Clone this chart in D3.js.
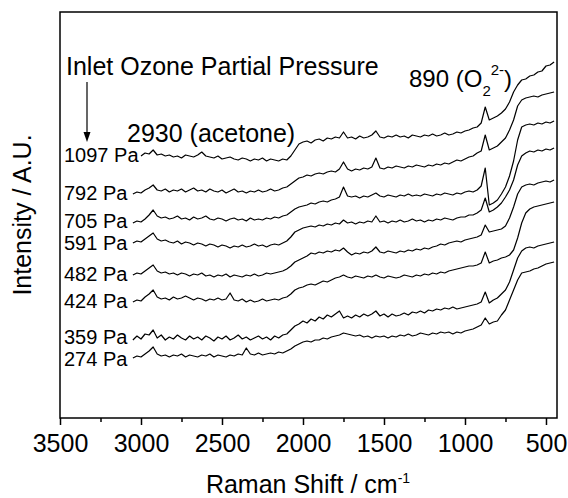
<!DOCTYPE html>
<html>
<head>
<meta charset="utf-8">
<script src="https://cdn.jsdelivr.net/npm/d3@7"></script>
<style>
  body { margin: 0; background: #fff; }
  svg text { font-family: "Liberation Sans", Arial, sans-serif; fill: #000; }
</style>
</head>
<body>
<div id="chart"></div>
<script>
var width = 568, height = 498;

// Raman shift grid (cm-1), 25 cm-1 step
var shift = d3.range(3050, 449, -25);
var majorTicks = [3500, 3000, 2500, 2000, 1500, 1000, 500];
var minorTicks = [3250, 2750, 2250, 1750, 1250, 750];
var pressures = ['1097 Pa', '792 Pa', '705 Pa', '591 Pa', '482 Pa', '424 Pa', '359 Pa', '274 Pa'];

// stacked spectra, a.u. (offset already applied)
var s1097 = [null, null, 262, 265, 264, 268, 263, 264, 262, 263,
  261, 262, 260, 263, 262, 261, 263, 266, 262, 261,
  260, 262, 259, 260, 261, 259, 258, 260, 259, 257,
  259, 258, 260, 257, 259, 258, 257, 259, 258, 262,
  268, 274, 276, 277, 275, 278, 279, 277, 280, 279,
  281, 280, 286, 280, 281, 279, 282, 280, 281, 283,
  287, 281, 280, 282, 281, 283, 281, 282, 280, 283,
  282, 281, 283, 282, 284, 282, 283, 285, 283, 284,
  286, 285, 287, 288, 290, 291, 295, 311, 298, 300,
  302, 305, 309, 316, 326, 333, 338, 339, 342, 343,
  346, 347, 352, 353, 356];
var s792 = [224, 226, 225, 228, 230, 233, 228, 227, 229, 226,
  228, 227, 229, 226, 228, 230, 227, 228, 226, 229,
  227, 226, 228, 225, 227, 229, 226, 227, 225, 227,
  226, 228, 226, 227, 229, 227, 228, 230, 231, 234,
  237, 240, 241, 243, 242, 244, 245, 244, 246, 247,
  246, 249, 256, 249, 247, 249, 248, 250, 249, 251,
  260, 250, 249, 251, 250, 252, 251, 250, 252, 251,
  253, 252, 251, 253, 252, 254, 253, 255, 254, 256,
  258, 257, 259, 261, 262, 265, 267, 283, 268, 270,
  272, 276, 280, 288, 298, 312, 318, 320, 321, 322,
  321, 323, 324, 325, 326];
var s705 = [195, 197, 196, 199, 203, 208, 202, 200, 201, 199,
  200, 202, 199, 200, 198, 201, 199, 200, 202, 199,
  198, 200, 199, 197, 199, 200, 198, 199, 197, 200,
  198, 199, 198, 200, 199, 201, 200, 202, 203, 206,
  209, 211, 212, 213, 215, 214, 216, 217, 216, 218,
  219, 221, 231, 222, 221, 222, 220, 222, 221, 223,
  225, 222, 221, 223, 222, 221, 223, 222, 224, 222,
  223, 222, 224, 223, 222, 224, 223, 225, 224, 223,
  225, 224, 226, 227, 226, 228, 232, 250, 213, 215,
  218, 224, 231, 242, 257, 278, 291, 293, 294, 293,
  295, 294, 296, 295, 297];
var s591 = [175, 177, 176, 179, 182, 185, 179, 177, 178, 176,
  175, 177, 174, 176, 175, 173, 175, 174, 172, 174,
  173, 171, 173, 172, 170, 172, 171, 173, 171, 172,
  174, 172, 173, 171, 173, 174, 173, 175, 177, 181,
  186, 188, 190, 191, 192, 191, 193, 192, 194, 193,
  195, 194, 198, 195, 196, 194, 196, 195, 197, 196,
  202, 196, 197, 195, 197, 196, 198, 196, 197, 199,
  197, 198, 196, 198, 197, 199, 198, 200, 199, 198,
  200, 201, 201, 203, 203, 205, 208, 220, 206, 208,
  211, 215, 221, 228, 238, 253, 262, 265, 267, 266,
  268, 267, 269, 268, 270];
var s482 = [143, 145, 144, 147, 150, 153, 147, 145, 146, 144,
  145, 143, 145, 144, 142, 144, 143, 145, 142, 143,
  141, 143, 142, 144, 141, 143, 142, 141, 143, 142,
  144, 142, 143, 145, 144, 145, 146, 147, 149, 152,
  156, 158, 160, 162, 165, 164, 166, 165, 167, 166,
  168, 167, 170, 166, 163, 165, 164, 166, 165, 167,
  171, 166, 165, 167, 166, 165, 167, 166, 168, 167,
  169, 168, 170, 169, 171, 172, 174, 173, 175, 176,
  177, 176, 178, 179, 180, 181, 183, 193, 186, 187,
  188, 189, 192, 200, 211, 224, 231, 233, 234, 233,
  235, 236, 237, 236, 238];
var s424 = [116, 118, 117, 121, 124, 128, 121, 119, 120, 118,
  121, 119, 120, 122, 120, 118, 120, 119, 117, 119,
  118, 120, 118, 119, 125, 118, 117, 119, 116, 118,
  116, 117, 119, 117, 118, 119, 118, 120, 121, 124,
  128, 130, 131, 133, 134, 133, 135, 137, 136, 138,
  140, 141, 143, 141, 140, 142, 141, 140, 142, 141,
  143, 141, 140, 142, 141, 140, 141, 143, 142, 141,
  143, 142, 144, 143, 145, 144, 146, 145, 147, 148,
  149, 150, 151, 152, 152, 153, 155, 166, 155, 157,
  158, 160, 161, 163, 168, 180, 195, 205, 209, 211,
  212, 213, 214, 215, 216];
var s359 = [78, 82, 79, 84, 83, 88, 80, 83, 78, 81,
  79, 83, 80, 78, 82, 79, 81, 78, 82, 80,
  77, 81, 79, 82, 78, 80, 83, 79, 81, 78,
  80, 82, 79, 81, 78, 82, 80, 83, 84, 88,
  92, 94, 97, 95, 99, 97, 101, 99, 103, 101,
  104, 107, 100, 102, 100, 103, 101, 104, 102, 104,
  107, 102, 104, 101, 104, 102, 103, 105, 103, 106,
  105, 107, 105, 108, 107, 109, 108, 110, 109, 111,
  109, 110, 111, 112, 113, 114, 116, 126, 115, 118,
  120, 124, 128, 136, 148, 160, 167, 170, 171, 170,
  172, 173, 174, 175, 176];
var s274 = [60, 62, 61, 64, 67, 71, 64, 62, 63, 61,
  63, 62, 64, 61, 63, 62, 61, 63, 62, 64,
  61, 63, 62, 61, 63, 62, 64, 63, 70, 64,
  63, 65, 63, 64, 65, 64, 66, 65, 67, 69,
  72, 74, 76, 77, 76, 78, 78, 80, 79, 81,
  82, 83, 85, 84, 83, 82, 83, 81, 82, 80,
  82, 81, 82, 80, 82, 81, 83, 82, 84, 82,
  83, 85, 84, 83, 85, 84, 86, 85, 86, 84,
  86, 85, 87, 88, 89, 91, 93, 100, 94, 96,
  97, 103, 108, 118, 128, 138, 145, 146, 147, 149,
  150, 152, 154, 155, 156];

var spectra = [s1097, s792, s705, s591, s482, s424, s359, s274];

var x = d3.scaleLinear().domain([3500, 432]).range([60, 557]);
var y = d3.scaleLinear().domain([0, 406]).range([418, 12]);

var svg = d3.select('#chart').append('svg')
  .attr('width', width)
  .attr('height', height);

var line = d3.line()
  .defined(function(d) { return d[1] != null; })
  .x(function(d) { return x(d[0]); })
  .y(function(d) { return y(d[1]); });

svg.selectAll('path.spec')
  .data(spectra).enter()
  .append('path')
    .attr('class', 'spec')
    .attr('fill', 'none')
    .attr('stroke', '#000')
    .attr('stroke-width', 1.2)
    .attr('stroke-linejoin', 'round')
    .attr('d', function(s) { return line(s.map(function(v, i) { return [shift[i], v]; })); });

// label baselines follow the start of each trace, pushed apart where they crowd
var labelY = spectra.map(function(s) {
  var v = s.find(function(d) { return d != null; });
  return y(v) + 6;
});
var minGap = 22;
for (var k = 0; k < 5; k++) {
  for (var i = 1; i < labelY.length; i++) {
    var gap = labelY[i] - labelY[i - 1];
    if (gap < minGap) {
      labelY[i - 1] -= (minGap - gap) / 2;
      labelY[i] += (minGap - gap) / 2;
    }
  }
}

svg.selectAll('text.pres')
  .data(pressures).enter()
  .append('text')
    .attr('class', 'pres')
    .attr('x', 64)
    .attr('y', function(d, i) { return labelY[i]; })
    .style('font-size', '20px')
    .text(function(d) { return d; });

// frame
svg.append('rect')
  .attr('x', 60).attr('y', 12)
  .attr('width', 497).attr('height', 406)
  .attr('fill', 'none')
  .attr('stroke', '#000')
  .attr('stroke-width', 1.5);

var xAxis = svg.append('g')
  .attr('transform', 'translate(0,418)')
  .call(d3.axisBottom(x).tickValues(majorTicks).tickSize(7).tickPadding(9).tickFormat(d3.format('d')));
xAxis.select('.domain').remove();
xAxis.selectAll('line').attr('stroke-width', 1.5);
xAxis.selectAll('text').style('font-size', '25px').attr('font-family', null);

var xMinor = svg.append('g')
  .attr('transform', 'translate(0,418)')
  .call(d3.axisBottom(x).tickValues(minorTicks).tickSize(4).tickFormat(''));
xMinor.select('.domain').remove();
xMinor.selectAll('line').attr('stroke-width', 1.5);

// axis titles
var xt = svg.append('text')
  .attr('x', 308).attr('y', 493)
  .attr('text-anchor', 'middle')
  .style('font-size', '25px');
xt.append('tspan').text('Raman Shift / cm');
xt.append('tspan').attr('dy', -10).style('font-size', '14px').text('-1');

svg.append('text')
  .attr('transform', 'translate(31,215) rotate(-90)')
  .attr('text-anchor', 'middle')
  .style('font-size', '25px')
  .text('Intensity / A.U.');

// annotations
svg.append('text')
  .attr('x', 66).attr('y', 75)
  .style('font-size', '25px')
  .text('Inlet Ozone Partial Pressure');

svg.append('line')
  .attr('x1', 87).attr('x2', 87)
  .attr('y1', 82).attr('y2', 134)
  .attr('stroke', '#000').attr('stroke-width', 1.2);
svg.append('path')
  .attr('d', 'M87,142L83.5,132L90.5,132Z')
  .attr('fill', '#000');

svg.append('text')
  .attr('x', 127).attr('y', 142)
  .style('font-size', '25px')
  .text('2930 (acetone)');

var o2 = svg.append('text')
  .attr('x', 409).attr('y', 87)
  .style('font-size', '24px');
o2.append('tspan').text('890 (O');
o2.append('tspan').attr('dy', 9).style('font-size', '15px').text('2');
o2.append('tspan').attr('dy', -21).style('font-size', '15px').text('2-');
o2.append('tspan').attr('dy', 12).text(')');
</script>
</body>
</html>
